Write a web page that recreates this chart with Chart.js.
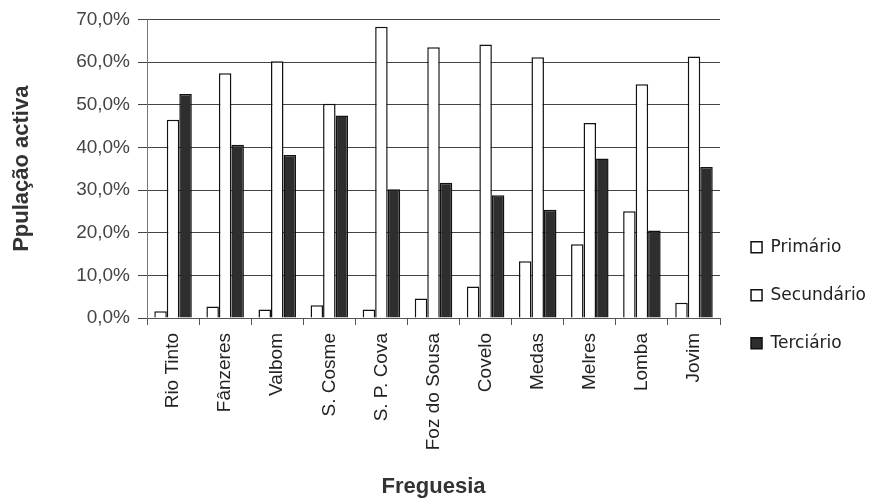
<!DOCTYPE html>
<html>
<head>
<meta charset="utf-8">
<script src="https://cdn.jsdelivr.net/npm/chart.js@4"></script>
<style>
  html, body { margin: 0; padding: 0; background: #fff; }
  #wrap { width: 872px; height: 504px; }
</style>
</head>
<body>
<div id="wrap"><canvas id="c" width="872" height="504"></canvas></div>
<script>
// Parishes (freguesias) and share of the active population per sector, in %
const freguesias = ['Rio Tinto', 'Fânzeres', 'Valbom', 'S. Cosme', 'S. P. Cova', 'Foz do Sousa',
                    'Covelo', 'Medas', 'Melres', 'Lomba', 'Jovim'];
const primario   = [1.6, 2.7, 2.0, 3.0, 2.0, 4.6, 7.4, 13.3, 17.3, 25.0, 3.6];
const secundario = [46.5, 57.4, 60.2, 50.2, 68.3, 63.5, 64.1, 61.1, 45.7, 54.8, 61.3];
const terciario  = [52.5, 40.6, 38.2, 47.5, 30.2, 31.7, 28.8, 25.4, 37.4, 20.5, 35.4];
const yTicks = [0, 10, 20, 30, 40, 50, 60, 70];

const fmtPct = v => v.toFixed(1).replace('.', ',') + '%';

new Chart(document.getElementById('c'), {
  type: 'bar',
  data: {
    labels: freguesias,
    datasets: [
      { label: 'Primário',   data: primario,   backgroundColor: '#ffffff', borderColor: '#111', borderWidth: 1.5 },
      { label: 'Secundário', data: secundario, backgroundColor: '#ffffff', borderColor: '#111', borderWidth: 1.5 },
      { label: 'Terciário',  data: terciario,  backgroundColor: '#2e2e2e', borderColor: '#111', borderWidth: 1.5 }
    ]
  },
  options: {
    responsive: false,
    animation: false,
    devicePixelRatio: 1,
    layout: { padding: { left: 0, right: -4, top: 19, bottom: 0 } },
    datasets: { bar: { categoryPercentage: 0.72, barPercentage: 1.0 } },
    plugins: {
      tooltip: { enabled: false },
      legend: {
        position: 'right',
        align: 'center',
        title: { display: true, text: '', padding: { top: 53, bottom: 0 } },
        labels: {
          boxWidth: 11,
          boxHeight: 11,
          padding: 31,
          color: '#222',
          font: { family: '"DejaVu Sans", sans-serif', size: 17 }
        }
      }
    },
    scales: {
      x: {
        offset: true,
        grid: { offset: true, drawOnChartArea: false, drawTicks: true, tickLength: 7, color: '#555' },
        border: { color: '#555', width: 1 },
        ticks: {
          autoSkip: false,
          minRotation: 90,
          maxRotation: 90,
          padding: 8,
          color: '#222',
          font: { family: '"Liberation Sans", Arial, sans-serif', size: 19 }
        },
        title: {
          display: true,
          text: 'Freguesia',
          color: '#333',
          font: { family: '"Liberation Sans", Arial, sans-serif', size: 22, weight: 'bold' },
          padding: { top: 0, bottom: 4 }
        },
        afterFit: s => { s.height = 186; }
      },
      y: {
        min: 0,
        max: 70,
        afterBuildTicks: s => { s.ticks = yTicks.map(v => ({ value: v })); },
        grid: { color: '#444', lineWidth: 1, tickLength: 9 },
        border: { color: '#777', width: 1 },
        ticks: {
          padding: 8,
          color: '#444',
          font: { family: '"Liberation Sans", Arial, sans-serif', size: 19 },
          callback: v => fmtPct(v)
        },
        title: {
          display: true,
          text: 'Ppulação activa',
          color: '#333',
          font: { family: '"Liberation Sans", Arial, sans-serif', size: 22, weight: 'bold' },
          padding: { top: 9, bottom: 0 }
        },
        afterFit: s => { s.width = 147; }
      }
    }
  }
});
</script>
</body>
</html>
